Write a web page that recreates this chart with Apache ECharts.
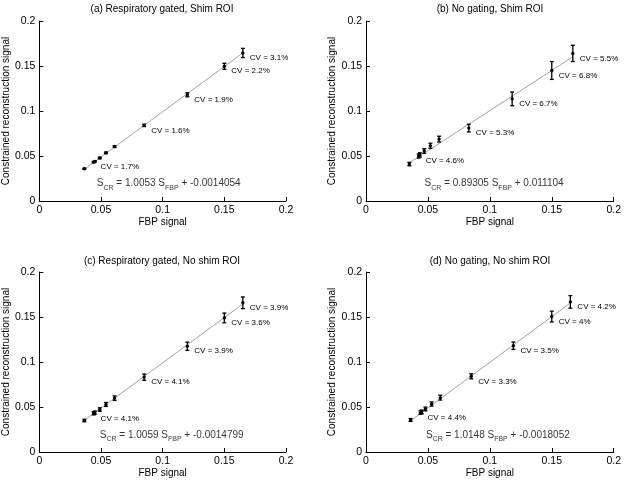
<!DOCTYPE html>
<html>
<head>
<meta charset="utf-8">
<script src="https://cdn.jsdelivr.net/npm/echarts@6/dist/echarts.min.js"></script>
<style>html,body{margin:0;padding:0;background:#fff}#c{width:624px;height:483px}</style>
</head>
<body>
<div id="c"></div>
<script>
// ---- data ----
const panelTitles = ['(a) Respiratory gated, Shim ROI', '(b) No gating, Shim ROI', '(c) Respiratory gated, No shim ROI', '(d) No gating, No shim ROI'];
const xTicks = [0, 0.05, 0.1, 0.15, 0.2];
const yTicks = [0, 0.05, 0.1, 0.15, 0.2];

const aX = [0.0365, 0.044, 0.045, 0.049, 0.054, 0.061, 0.085, 0.120, 0.150, 0.165];
const aY = [0.0358, 0.0432, 0.0440, 0.0478, 0.0535, 0.0605, 0.0840, 0.1180, 0.1497, 0.1645];
const aErr = [0.0006, 0.0007, 0.0007, 0.0008, 0.0009, 0.0010, 0.0013, 0.0022, 0.0033, 0.0051];
const aCV = ['', 'CV = 1.7%', '', '', '', '', 'CV = 1.6%', 'CV = 1.9%', 'CV = 2.2%', 'CV = 3.1%'];
const aFit = [[0.0365, 0.0353], [0.165, 0.1645]];
const aEq = ['S', 'CR', ' = 1.0053 S', 'FBP', ' + -0.0014054'];
const aEqPos = [0.0466, 0.0185];

const bX = [0.035, 0.0425, 0.0435, 0.047, 0.052, 0.059, 0.083, 0.118, 0.150, 0.167];
const bY = [0.0410, 0.0500, 0.0512, 0.0555, 0.0614, 0.0688, 0.0810, 0.1135, 0.1450, 0.1640];
const bErr = [0.0019, 0.0023, 0.0024, 0.0025, 0.0028, 0.0032, 0.0043, 0.0076, 0.0099, 0.0090];
const bCV = ['', 'CV = 4.6%', '', '', '', '', 'CV = 5.3%', 'CV = 6.7%', 'CV = 6.8%', 'CV = 5.5%'];
const bFit = [[0.035, 0.0424], [0.167, 0.1602]];
const bEq = ['S', 'CR', ' = 0.89305 S', 'FBP', ' + 0.011104'];
const bEqPos = [0.0473, 0.0185];

const cX = [0.0365, 0.044, 0.045, 0.049, 0.054, 0.061, 0.085, 0.120, 0.150, 0.165];
const cY = [0.0350, 0.0430, 0.0438, 0.0472, 0.0528, 0.0598, 0.0832, 0.1175, 0.1490, 0.1658];
const cErr = [0.0014, 0.0018, 0.0018, 0.0019, 0.0022, 0.0025, 0.0034, 0.0046, 0.0054, 0.0065];
const cCV = ['', 'CV = 4.1%', '', '', '', '', 'CV = 4.1%', 'CV = 3.9%', 'CV = 3.6%', 'CV = 3.9%'];
const cFit = [[0.0365, 0.0352], [0.165, 0.1645]];
const cEq = ['S', 'CR', ' = 1.0059 S', 'FBP', ' + -0.0014799'];
const cEqPos = [0.0490, 0.0180];

const dX = [0.036, 0.044, 0.045, 0.048, 0.053, 0.060, 0.085, 0.119, 0.150, 0.165];
const dY = [0.0356, 0.0438, 0.0446, 0.0478, 0.0533, 0.0604, 0.0841, 0.1181, 0.1505, 0.1668];
const dErr = [0.0016, 0.0019, 0.0020, 0.0021, 0.0023, 0.0027, 0.0028, 0.0041, 0.0060, 0.0070];
const dCV = ['', 'CV = 4.4%', '', '', '', '', 'CV = 3.3%', 'CV = 3.5%', 'CV = 4%', 'CV = 4.2%'];
const dFit = [[0.036, 0.0347], [0.165, 0.1656]];
const dEq = ['S', 'CR', ' = 1.0148 S', 'FBP', ' + -0.0018052'];
const dEqPos = [0.0484, 0.0180];

// ---- build ----
const FONT = 'Liberation Sans, Arial, Helvetica, sans-serif';
const panels = [
  {x: aX, y: aY, e: aErr, cv: aCV, fit: aFit, eq: aEq, eqPos: aEqPos},
  {x: bX, y: bY, e: bErr, cv: bCV, fit: bFit, eq: bEq, eqPos: bEqPos},
  {x: cX, y: cY, e: cErr, cv: cCV, fit: cFit, eq: cEq, eqPos: cEqPos},
  {x: dX, y: dY, e: dErr, cv: dCV, fit: dFit, eq: dEq, eqPos: dEqPos}
];
const grids = [
  {left: 38, top: 21, width: 248, height: 180},
  {left: 366, top: 21, width: 248, height: 180},
  {left: 38, top: 272, width: 248, height: 180},
  {left: 366, top: 272, width: 248, height: 180}
];
const titleTops = [4, 4, 256, 256];

const option = {
  animation: false,
  backgroundColor: '#fff',
  textStyle: {fontFamily: FONT},
  title: panelTitles.map((t, i) => ({
    text: t, left: grids[i].left + grids[i].width / 2, top: titleTops[i], textAlign: 'center', padding: 0,
    textStyle: {fontSize: 10, fontWeight: 'normal', color: '#000', fontFamily: FONT}
  })),
  grid: grids,
  xAxis: grids.map((g, i) => ({
    gridIndex: i, type: 'value', min: 0, max: 0.2, interval: 0.05,
    name: 'FBP signal', nameLocation: 'middle', nameGap: 15,
    nameTextStyle: {fontSize: 10, color: '#000', fontFamily: FONT},
    axisLine: {show: true, lineStyle: {color: '#000', width: 1}},
    axisTick: {show: true, inside: true, length: 4, lineStyle: {color: '#000'}},
    axisLabel: {fontSize: 10.5, color: '#000', margin: 4, fontFamily: FONT, formatter: v => String(+v.toFixed(3))},
    splitLine: {show: false}
  })),
  yAxis: grids.map((g, i) => ({
    gridIndex: i, type: 'value', min: 0, max: 0.2, interval: 0.05,
    name: 'Constrained reconstruction signal', nameLocation: 'middle', nameGap: 23,
    nameTextStyle: {fontSize: 10, color: '#000', fontFamily: FONT},
    axisLine: {show: true, lineStyle: {color: '#000', width: 1}},
    axisTick: {show: true, inside: true, length: 4, lineStyle: {color: '#000'}},
    axisLabel: {fontSize: 10.5, color: '#000', margin: 4, fontFamily: FONT, formatter: v => String(+v.toFixed(3))},
    splitLine: {show: false}
  })),
  series: []
};

panels.forEach((p, i) => {
  option.series.push({
    type: 'line', xAxisIndex: i, yAxisIndex: i, data: p.fit, showSymbol: false, silent: true,
    lineStyle: {color: '#8c8c8c', width: 0.8}, z: 1
  });
  option.series.push({
    type: 'custom', xAxisIndex: i, yAxisIndex: i, z: 3,
    data: p.x.map((x, k) => [x, p.y[k], p.e[k]]),
    encode: {x: 0, y: 1},
    renderItem: (params, api) => {
      const x = api.value(0), y = api.value(1), e = api.value(2);
      const c = api.coord([x, y]);
      const t = api.coord([x, y + e]);
      const b = api.coord([x, y - e]);
      const st = {stroke: '#000', lineWidth: 1.3};
      const ch = [
        {type: 'line', shape: {x1: c[0], y1: t[1], x2: c[0], y2: b[1]}, style: st},
        {type: 'line', shape: {x1: c[0] - 2, y1: t[1], x2: c[0] + 2, y2: t[1]}, style: st},
        {type: 'line', shape: {x1: c[0] - 2, y1: b[1], x2: c[0] + 2, y2: b[1]}, style: st},
        {type: 'circle', shape: {cx: c[0], cy: c[1], r: 1.7}, style: {fill: '#000'}}
      ];
      const lab = p.cv[params.dataIndex];
      if (lab) {
        ch.push({type: 'text', x: c[0] + 7, y: c[1] + 5,
          style: {text: lab, fill: '#000', font: '8px ' + FONT, align: 'left', verticalAlign: 'middle'}});
      }
      return {type: 'group', children: ch};
    }
  });
  option.series.push({
    type: 'scatter', xAxisIndex: i, yAxisIndex: i, symbolSize: 0, silent: true, z: 4,
    data: [p.eqPos],
    label: {
      show: true, position: 'right', distance: 0,
      formatter: '{m|' + p.eq[0] + '}{s|' + p.eq[1] + '}{m|' + p.eq[2] + '}{s|' + p.eq[3] + '}{m|' + p.eq[4] + '}',
      rich: {
        m: {fontSize: 10, lineHeight: 12, color: '#000', fontFamily: FONT, verticalAlign: 'top'},
        s: {fontSize: 7, lineHeight: 9, color: '#000', fontFamily: FONT, verticalAlign: 'top', padding: [6, 0, 0, 0]}
      }
    }
  });
});

const chart = echarts.init(document.getElementById('c'), null, {renderer: 'canvas'});
chart.setOption(option);
</script>
</body>
</html>
